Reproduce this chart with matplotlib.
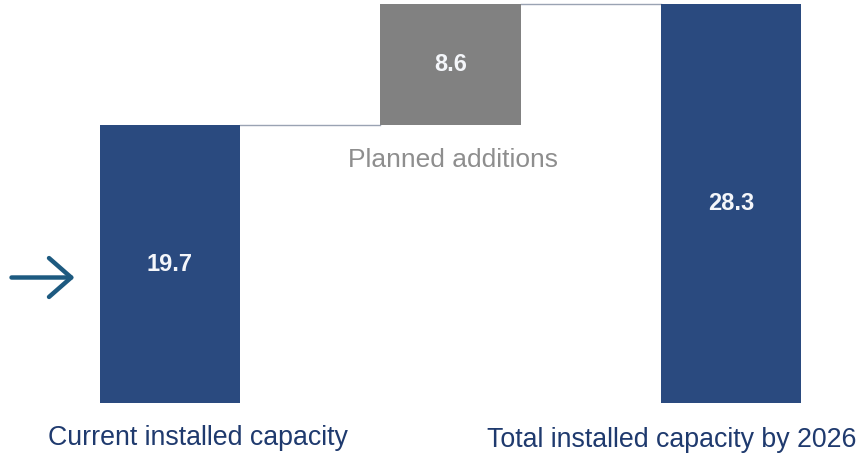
import matplotlib.pyplot as plt

plt.rcParams["font.family"] = ["Liberation Sans", "DejaVu Sans"]

# capacity bridge: current -> planned additions -> total
steps = ["Current installed capacity", "Planned additions", "Total installed capacity by 2026"]
values = [19.7, 8.6, 28.3]
bases = [0, 19.7, 0]

NAVY = "#2a4a7f"
GREY = "#818181"
TEXT_NAVY = "#1f3a6e"

fig = plt.figure(figsize=(8.63, 4.58), dpi=100)
ax = fig.add_axes([0, 0, 1, 1])
ax.set_xlim(-0.606, 2.471)
ax.set_ylim(-3.9, 28.58)
ax.axis("off")

x = range(len(values))
colors = [NAVY, GREY, NAVY]
ax.bar(x, values, bottom=bases, width=0.5, color=colors, zorder=2)

# connector lines between bars
ax.plot([0.25, 0.75], [values[0], values[0]], color="#9aa3b3", lw=1, zorder=1)
ax.plot([1.25, 1.75], [bases[1] + values[1]] * 2, color="#9aa3b3", lw=1, zorder=1)

# value labels inside bars
for xi, v, b in zip(x, values, bases):
    ax.text(xi, b + v / 2, f"{v:.1f}", color="#f4f6fa", fontsize=17, fontweight="bold",
            ha="center", va="center", zorder=3)

ax.text(1.01, 17.2, steps[1], color="#8e8e8e", fontsize=19, ha="center", va="center")
ax.text(0.1, -2.5, steps[0], color=TEXT_NAVY, fontsize=19.3, ha="center", va="center")
ax.text(1.79, -2.6, steps[2], color=TEXT_NAVY, fontsize=19.3, ha="center", va="center")

# arrow pointing at the current capacity bar
ax.annotate("", xy=(-0.34, 8.9), xytext=(-0.565, 8.9),
            arrowprops=dict(arrowstyle="->,head_length=1.6,head_width=1.4",
                            color="#1d5a80", lw=3.2, capstyle="round",
                            joinstyle="round", shrinkA=0, shrinkB=0))

fig.savefig("out.png", dpi=100)
